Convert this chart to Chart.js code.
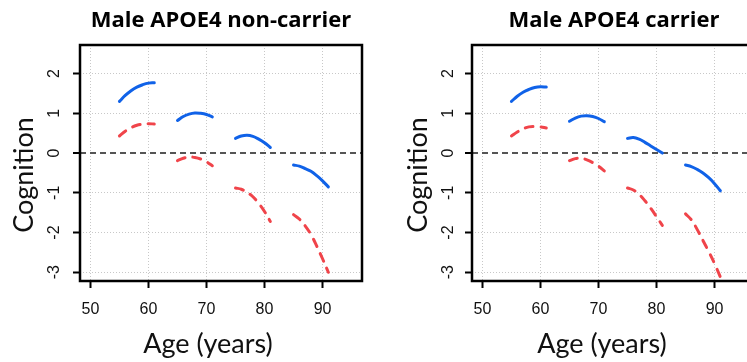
<!DOCTYPE html>
<html>
<head>
<meta charset="utf-8">
<script src="https://cdn.jsdelivr.net/npm/chart.js@4.4.1/dist/chart.umd.min.js"></script>
<style>
  html, body { margin: 0; padding: 0; background: #fff; overflow: hidden; width: 747px; height: 362px; }
  body { position: relative; }
  .panel { position: absolute; top: 0; width: 380px; height: 362px; }
</style>
</head>
<body>
<div class="panel" style="left:0px"><canvas id="c1"></canvas></div>
<div class="panel" style="left:392px"><canvas id="c2"></canvas></div>
<script>
// ---- data ----
const panelTitles = ["Male APOE4 non-carrier", "Male APOE4 carrier"];
const xAxisTitle = "Age (years)";
const yAxisTitle = "Cognition";
const xTicks = [50, 60, 70, 80, 90];
const yTicks = [-3, -2, -1, 0, 1, 2];
const ageSegments = [
  [55, 56, 57, 58, 59, 60, 61],
  [65, 66, 67, 68, 69, 70, 71],
  [75, 76, 77, 78, 79, 80, 81],
  [85, 86, 87, 88, 89, 90, 91]
];
const nonCarrierBlue = [
  [1.30, 1.45, 1.57, 1.66, 1.72, 1.76, 1.77],
  [0.82, 0.92, 0.98, 1.01, 1.00, 0.97, 0.91],
  [0.37, 0.43, 0.45, 0.42, 0.35, 0.26, 0.14],
  [-0.30, -0.33, -0.39, -0.46, -0.57, -0.70, -0.85]
];
const nonCarrierRed = [
  [0.43, 0.55, 0.64, 0.70, 0.73, 0.74, 0.73],
  [-0.19, -0.13, -0.10, -0.11, -0.15, -0.22, -0.32],
  [-0.88, -0.91, -0.99, -1.10, -1.27, -1.47, -1.72],
  [-1.55, -1.66, -1.83, -2.05, -2.34, -2.66, -3.00]
];
const carrierBlue = [
  [1.30, 1.43, 1.53, 1.60, 1.65, 1.67, 1.66],
  [0.80, 0.88, 0.93, 0.94, 0.92, 0.87, 0.79],
  [0.37, 0.39, 0.35, 0.27, 0.18, 0.09, 0.00],
  [-0.30, -0.34, -0.41, -0.50, -0.62, -0.77, -0.95]
];
const carrierRed = [
  [0.43, 0.53, 0.61, 0.66, 0.67, 0.66, 0.63],
  [-0.19, -0.14, -0.13, -0.17, -0.24, -0.33, -0.45],
  [-0.88, -0.93, -1.04, -1.20, -1.39, -1.60, -1.82],
  [-1.53, -1.68, -1.92, -2.20, -2.48, -2.78, -3.12]
];

// ---- style ----
const BLUE = '#1062e8';
const RED = '#f0444a';
const X_MIN = 48.2, X_MAX = 96.8;
const Y_MIN = -3.22, Y_MAX = 2.72;
const TICK_FONT = '"Liberation Sans", Arial, sans-serif';

const panelText = {
  id: 'panelText',
  afterDatasetsDraw(chart) {
    const { ctx, chartArea: a } = chart;
    ctx.save();
    ctx.strokeStyle = '#000';
    ctx.lineWidth = 2.5;
    ctx.strokeRect(a.left, a.top, a.right - a.left, a.bottom - a.top);
    ctx.restore();
  },
  afterDraw(chart, args, opts) {
    const { ctx, scales } = chart;
    ctx.save();
    // rotated y tick labels
    ctx.font = '16px ' + TICK_FONT;
    ctx.fillStyle = '#111';
    ctx.textAlign = 'center';
    ctx.textBaseline = 'middle';
    yTicks.forEach(v => {
      const y = scales.y.getPixelForValue(v);
      ctx.save();
      ctx.translate(opts.yLabelX, y);
      ctx.rotate(-Math.PI / 2);
      ctx.fillText(String(v), 0, 1);
      ctx.restore();
    });
    // panel title
    ctx.fillStyle = '#000';
    ctx.textBaseline = 'alphabetic';
    ctx.font = 'bold 22px "Open Sans", Lato, sans-serif';
    ctx.fillText(opts.title, opts.titleX, 27);
    // x axis title
    ctx.fillStyle = '#111';
    ctx.font = '27px Lato, "Open Sans", sans-serif';
    ctx.fillText(xAxisTitle, opts.xTitleX, 353);
    // y axis title
    ctx.save();
    ctx.translate(opts.yTitleX, opts.yTitleY);
    ctx.rotate(-Math.PI / 2);
    ctx.fillText(yAxisTitle, 0, 0);
    ctx.restore();
    ctx.restore();
  }
};

function buildDatasets(blue, red) {
  const ds = [];
  ageSegments.forEach((ages, i) => {
    ds.push({
      data: ages.map((a, j) => ({ x: a, y: blue[i][j] })),
      borderColor: BLUE, borderWidth: 3, borderCapStyle: 'round', borderJoinStyle: 'round',
      pointRadius: 0, tension: 0.4, fill: false
    });
    ds.push({
      data: ages.map((a, j) => ({ x: a, y: red[i][j] })),
      borderColor: RED, borderWidth: 3, borderDash: [8, 8], borderCapStyle: 'round', borderJoinStyle: 'round',
      pointRadius: 0, tension: 0.4, fill: false
    });
  });
  return ds;
}

function makeChart(id, title, blue, red, textOpts) {
  return new Chart(document.getElementById(id), {
    type: 'line',
    data: { datasets: buildDatasets(blue, red) },
    plugins: [panelText],
    options: {
      responsive: true,
      maintainAspectRatio: false,
      animation: false,
      devicePixelRatio: 1,
      layout: { padding: { top: 45, right: 18, bottom: 0, left: 0 } },
      plugins: {
        legend: { display: false },
        tooltip: { enabled: false },
        title: { display: false },
        panelText: Object.assign({ title: title }, textOpts)
      },
      scales: {
        x: {
          type: 'linear', min: X_MIN, max: X_MAX,
          afterBuildTicks: s => { s.ticks = xTicks.map(v => ({ value: v })); },
          afterFit: s => { s.height = 81; },
          grid: {
            color: '#c8c8c8', lineWidth: 1, drawTicks: true, tickLength: 7,
            tickColor: '#000', tickWidth: 2, tickBorderDash: []
          },
          border: { display: false, dash: [1, 2] },
          ticks: {
            font: { family: TICK_FONT, size: 16 },
            color: '#111', padding: 12, maxRotation: 0, minRotation: 0, autoSkip: false
          }
        },
        y: {
          type: 'linear', min: Y_MIN, max: Y_MAX,
          afterBuildTicks: s => { s.ticks = yTicks.map(v => ({ value: v })); },
          afterFit: s => { s.width = 80; },
          grid: {
            color: c => (c.tick && c.tick.value === 0) ? '#555555' : '#c8c8c8',
            lineWidth: c => (c.tick && c.tick.value === 0) ? 2 : 1,
            drawTicks: true, tickLength: 7, tickColor: '#000', tickWidth: 2, tickBorderDash: []
          },
          border: {
            display: false,
            dash: c => (c.tick && c.tick.value === 0) ? [6, 4] : [1, 2]
          },
          ticks: { display: false }
        }
      }
    }
  });
}

function init() {
  makeChart('c1', panelTitles[0], nonCarrierBlue, nonCarrierRed,
    { titleX: 221, xTitleX: 208, yLabelX: 54, yTitleX: 33, yTitleY: 175 });
  makeChart('c2', panelTitles[1], carrierBlue, carrierRed,
    { titleX: 222, xTitleX: 210, yLabelX: 56, yTitleX: 35, yTitleY: 175 });
}
if (document.fonts && document.fonts.load) {
  Promise.all([
    document.fonts.load('bold 22px "Open Sans"'),
    document.fonts.load('27px Lato'),
    document.fonts.load('16px "Liberation Sans"')
  ]).then(init, init);
} else {
  init();
}
</script>
</body>
</html>
